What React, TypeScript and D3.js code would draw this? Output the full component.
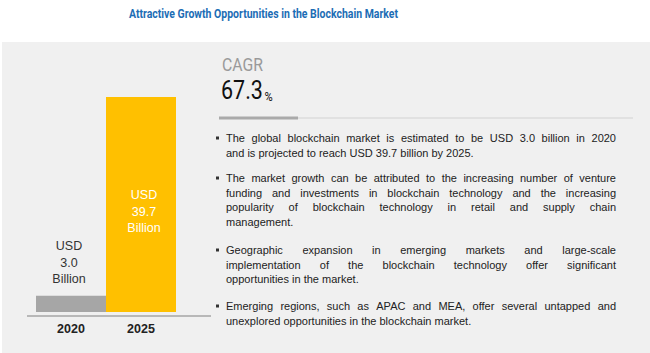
import React from "react";
import * as d3 from "d3";

const years = ["2020", "2025"];
const values = [3.0, 39.7];
const valueLabels = [["USD", "3.0", "Billion"], ["USD", "39.7", "Billion"]];
const barColors = ["#a6a6a6", "#ffc000"];
const title = "Attractive Growth Opportunities in the Blockchain Market";
const cagrLabel = "CAGR";
const cagrValue = "67.3";
const bullets: string[][] = [
  ["The global blockchain market is estimated to be USD 3.0 billion in 2020", "and is projected to reach USD 39.7 billion by 2025."],
  ["The market growth can be attributed to the increasing number of venture", "funding and investments in blockchain technology and the increasing", "popularity of blockchain technology in retail and supply chain", "management."],
  ["Geographic expansion in emerging markets and large-scale", "implementation of the blockchain technology offer significant", "opportunities in the market."],
  ["Emerging regions, such as APAC and MEA, offer several untapped and", "unexplored opportunities in the blockchain market."],
];

const bodyFont = "'Liberation Sans', Arial, sans-serif";
const bodySize = 11;

let ctx: CanvasRenderingContext2D | null = null;
function measure(s: string): number {
  if (!ctx && typeof document !== "undefined") {
    ctx = document.createElement("canvas").getContext("2d");
  }
  if (!ctx) return s.length * 5.5;
  ctx.font = `${bodySize}px ${bodyFont}`;
  return ctx.measureText(s).width;
}

function JustifiedLine({ text, x, y, width, justify }: { text: string; x: number; y: number; width: number; justify: boolean }) {
  if (!justify) {
    return <text x={x} y={y} dy="0.35em" fontFamily={bodyFont} fontSize={bodySize} fill="#222">{text}</text>;
  }
  const words = text.split(" ");
  const ws = words.map(measure);
  const total = d3.sum(ws);
  const gap = words.length > 1 ? (width - total) / (words.length - 1) : 0;
  let cx = x;
  return (
    <g>
      {words.map((w, i) => {
        const px = cx;
        cx += ws[i] + gap;
        return <text key={i} x={px} y={y} dy="0.35em" fontFamily={bodyFont} fontSize={bodySize} fill="#222">{w}</text>;
      })}
    </g>
  );
}

export default function App() {
  const W = 650, H = 353;
  const x = d3.scaleBand<string>().domain(years).range([36, 176]).padding(0);
  const y = d3.scaleLinear().domain([0, 39.7]).range([312, 97]);
  const textX = 226, textRight = 616;
  const bulletTops = [138, 178, 250, 306];
  const lineH = 14.8;
  const narrow = "'Liberation Sans Narrow', 'Roboto', sans-serif";

  return (
    <svg width={W} height={H} style={{ position: "absolute", left: 0, top: 0 }}>
      <rect x={0} y={0} width={W} height={H} fill="#ffffff" />
      <text x={263.5} y={13} dy="0.35em" textAnchor="middle" fill="#1c6db5" fontFamily={narrow} fontWeight="bold" fontSize={13} textLength={269} lengthAdjust="spacingAndGlyphs">{title}</text>
      <rect x={2} y={42} width={W - 2} height={H - 42} fill="#f0f0f0" />
      {years.map((yr, i) => (
        <rect key={yr} x={x(yr)} y={y(values[i])} width={x.bandwidth()} height={y(0) - y(values[i])} fill={barColors[i]} />
      ))}
      <line x1={27} x2={211} y1={316} y2={316} stroke="#a6a6a6" strokeWidth={1.5} />
      {years.map((yr) => (
        <text key={"l" + yr} x={(x(yr) as number) + x.bandwidth() / 2} y={329} dy="0.35em" textAnchor="middle" fontFamily={bodyFont} fontWeight="bold" fontSize={12.5} fill="#222">{yr}</text>
      ))}
      {valueLabels[0].map((s, k) => (
        <text key={"a" + k} x={(x(years[0]) as number) + x.bandwidth() / 2 - 2} y={246 + k * 16.5} dy="0.35em" textAnchor="middle" fontFamily={bodyFont} fontSize={12.5} fill="#333">{s}</text>
      ))}
      {valueLabels[1].map((s, k) => (
        <text key={"b" + k} x={(x(years[1]) as number) + x.bandwidth() / 2 + 3} y={195 + k * 16.5} dy="0.35em" textAnchor="middle" fontFamily={bodyFont} fontSize={12.5} fill="#ffffff">{s}</text>
      ))}
      <text x={222} y={64} dy="0.35em" fontFamily={narrow} fontSize={19} fill="#9a9a9a" textLength={41} lengthAdjust="spacingAndGlyphs">{cagrLabel}</text>
      <text transform="translate(221,90) scale(0.86,1)" dy="0.35em" fontFamily={narrow} fontSize={25} fill="#111">
        {cagrValue}
        <tspan fontSize={13} dx={2} dy={2}>%</tspan>
      </text>
      <line x1={219} x2={633} y1={118} y2={118} stroke="#dcdcdc" strokeWidth={1.5} />
      <line x1={219} x2={298} y1={118} y2={118} stroke="#aaaaaa" strokeWidth={3} />
      {bullets.map((lines, bi) => (
        <g key={"bul" + bi}>
          <rect x={216} y={bulletTops[bi] - 1.5} width={3} height={3} fill="#333" />
          {lines.map((ln, li) => (
            <JustifiedLine key={li} text={ln} x={textX} y={bulletTops[bi] + li * lineH} width={textRight - textX} justify={li < lines.length - 1} />
          ))}
        </g>
      ))}
    </svg>
  );
}
